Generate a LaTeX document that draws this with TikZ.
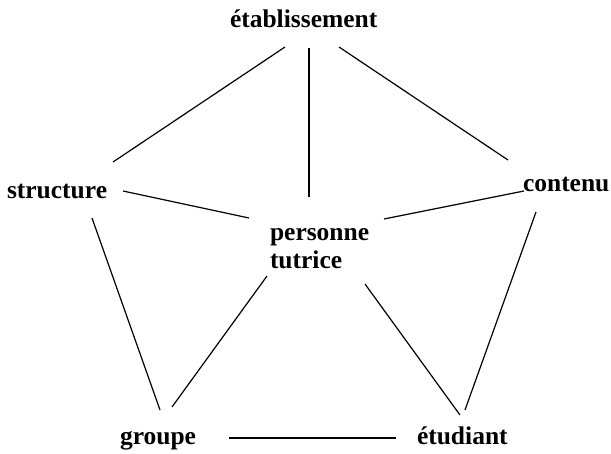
\documentclass[tikz,border=0pt]{standalone}
\usepackage{fontspec}
\setmainfont{Liberation Serif}
\usetikzlibrary{calc}
\tikzset{
  lbl/.style={anchor=base west, inner sep=0pt, outer sep=0pt, font=\fontsize{25.5}{28}\selectfont\bfseries, align=left},
  link/.style={draw=black, line width=1.2pt}
}
\begin{document}
\begin{tikzpicture}[x=1pt,y=-1pt]
\useasboundingbox[fill=white] (0,0) rectangle (611,453);
\node[lbl] (etab) at (230,27) {établissement};
\node[lbl] (struct) at (7,198) {structure};
\node[lbl] (cont) at (523,191) {contenu};
\node[lbl] (pers) at (270,268) {personne\\tutrice};
\node[lbl] (grp) at (120,444) {groupe};
\node[lbl] (etu) at (417,444) {étudiant};
\draw[link] ($(etab.base west)+(55,20)$) -- ($(struct.base west)+(106,-36)$);
\draw[link] ($(etab.base west)+(79,21)$) -- ($(pers.base west)+(39,-71)$);
\draw[link] ($(etab.base west)+(109,20)$) -- ($(cont.base west)+(-15,-31)$);
\draw[link] ($(struct.base west)+(116,-7)$) -- ($(pers.base west)+(-21,-50)$);
\draw[link] ($(cont.base west)+(1,0)$) -- ($(pers.base west)+(114,-49)$);
\draw[link] ($(struct.base west)+(85,20)$) -- ($(grp.base west)+(40,-34)$);
\draw[link] ($(pers.base west)+(-3,8)$) -- ($(grp.base west)+(52,-37)$);
\draw[link] ($(pers.base west)+(95,16)$) -- ($(etu.base west)+(43,-29)$);
\draw[link] ($(cont.base west)+(13,21)$) -- ($(etu.base west)+(48,-34)$);
\draw[link] ($(grp.base west)+(109,-6)$) -- ($(etu.base west)+(-21,-6)$);
\end{tikzpicture}
\end{document}
